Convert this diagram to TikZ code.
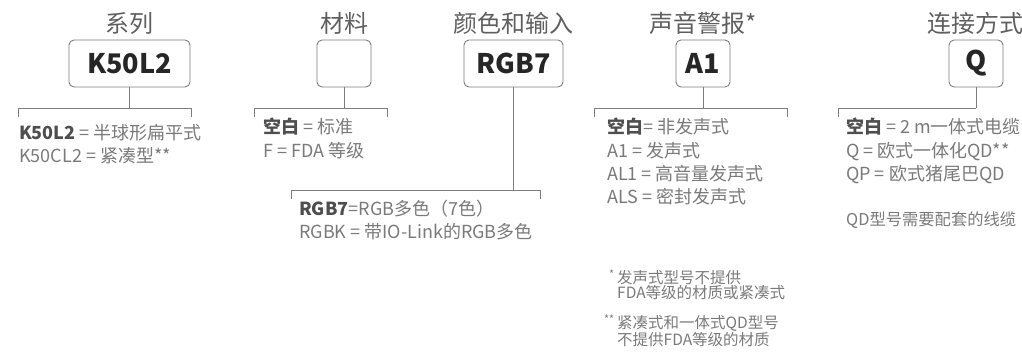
\documentclass[tikz,border=0pt]{standalone}
\usepackage{fontspec}
\setmainfont{Noto Sans CJK SC}
\usepackage{xcolor}
\usepackage{tikz}
\usetikzlibrary{positioning, calc}
\definecolor{KeyGray}{RGB}{122, 122, 122}
\definecolor{KeyDark}{RGB}{78, 78, 78}
\definecolor{KeyTitle}{RGB}{95, 95, 95}
\definecolor{KeyLine}{RGB}{125, 125, 125}
\newcommand{\optkey}[1]{{\bfseries\color{KeyDark}#1}}

\tikzset{
  codebox/.style={draw=KeyLine, line width=0.9pt, rounded corners=5pt,
    minimum height=47pt, inner sep=0pt, text=black!85,
    font=\fontsize{27}{30}\selectfont\bfseries},
  fieldtitle/.style={anchor=base, inner sep=0pt, text=KeyTitle,
    font=\fontsize{24}{28}\selectfont},
  optlist/.style={anchor=north west, inner sep=0pt, align=left, text=KeyGray,
    font=\fontsize{18}{23.3}\selectfont},
  notetext/.style={anchor=north west, inner sep=0pt, align=left, text=KeyGray,
    font=\fontsize{15.5}{15}\selectfont},
  bracket/.style={draw=KeyLine, line width=0.8pt}
}

\begin{document}
\begin{tikzpicture}[x=1pt, y=-1pt]
  \useasboundingbox (0,0) rectangle (1022,351);

  % code boxes
  \node[codebox, minimum width=121pt] (series) at (129.5,63.5) {K50L2};
  \node[codebox, minimum width=54pt] (material) at (344,63.5) {};
  \node[codebox, minimum width=99pt] (color) at (513.5,63.5) {RGB7};
  \node[codebox, minimum width=54pt] (alarm) at (703,63.5) {A1};
  \node[codebox, minimum width=54pt] (conn) at (976,63.5) {Q};

  % titles
  \node[fieldtitle] (seriesT) at (129.5,32) {系列};
  \node[fieldtitle] (materialT) at (344,32) {材料};
  \node[fieldtitle] (colorT) at (513.5,32) {颜色和输入};
  \node[fieldtitle] (alarmT) at (703,32) {声音警报*};
  \node[fieldtitle] (connT) at (975,32) {连接方式};

  % brackets
  \coordinate (seriesL) at (18,108);   \coordinate (seriesR) at (191,108);
  \coordinate (materialL) at (254,108); \coordinate (materialR) at (387,108);
  \coordinate (colorL) at (291,190);   \coordinate (colorR) at (540,190);
  \coordinate (alarmL) at (594,108);   \coordinate (alarmR) at (787,108);
  \coordinate (connL) at (838,108);

  \foreach \f in {series, material, color, alarm} {
    \draw[bracket] (\f.south) -- (\f.south |- \f L);
    \draw[bracket] ($(\f L)+(0,9)$) -- (\f L) -- (\f R) -- ++(0,9);
  }
  \draw[bracket] (conn.south) -- (conn.south |- connL);
  \draw[bracket] ($(connL)+(0,9)$) -- (connL) -- (conn.south |- connL);

  % option lists
  \node[optlist] (seriesO) at (19,124) {\optkey{K50L2} = 半球形扁平式\\K50CL2 = 紧凑型**};
  \node[optlist] (materialO) at (263,118) {\optkey{空白} = 标准\\F = FDA 等级};
  \node[optlist] (colorO) at (299,200) {\optkey{RGB7}=RGB多色（7色）\\RGBK = 带IO-Link的RGB多色};
  \node[optlist] (alarmO) at (607,118) {\optkey{空白}= 非发声式\\A1 = 发声式\\AL1 = 高音量发声式\\ALS = 密封发声式};
  \node[optlist] (connO) at (846,118) {\optkey{空白} = 2 m一体式电缆\\Q = 欧式一体化QD**\\QP = 欧式猪尾巴QD};
  \node[optlist, font=\fontsize{16.3}{20}\selectfont] (connN) at (846,212) {QD型号需要配套的线缆};

  % footnotes
  \node[notetext] (noteA) at (617,270) {发声式型号不提供\\FDA等级的材质或紧凑式};
  \node[notetext, anchor=north east, xshift=-2pt] (noteAm) at (noteA.north west) {\textsuperscript{*}};
  \node[notetext] (noteB) at (617,315) {紧凑式和一体式QD型号\\不提供FDA等级的材质};
  \node[notetext, anchor=north east, xshift=-2pt] (noteBm) at (noteB.north west) {\textsuperscript{**}};
\end{tikzpicture}
\end{document}
